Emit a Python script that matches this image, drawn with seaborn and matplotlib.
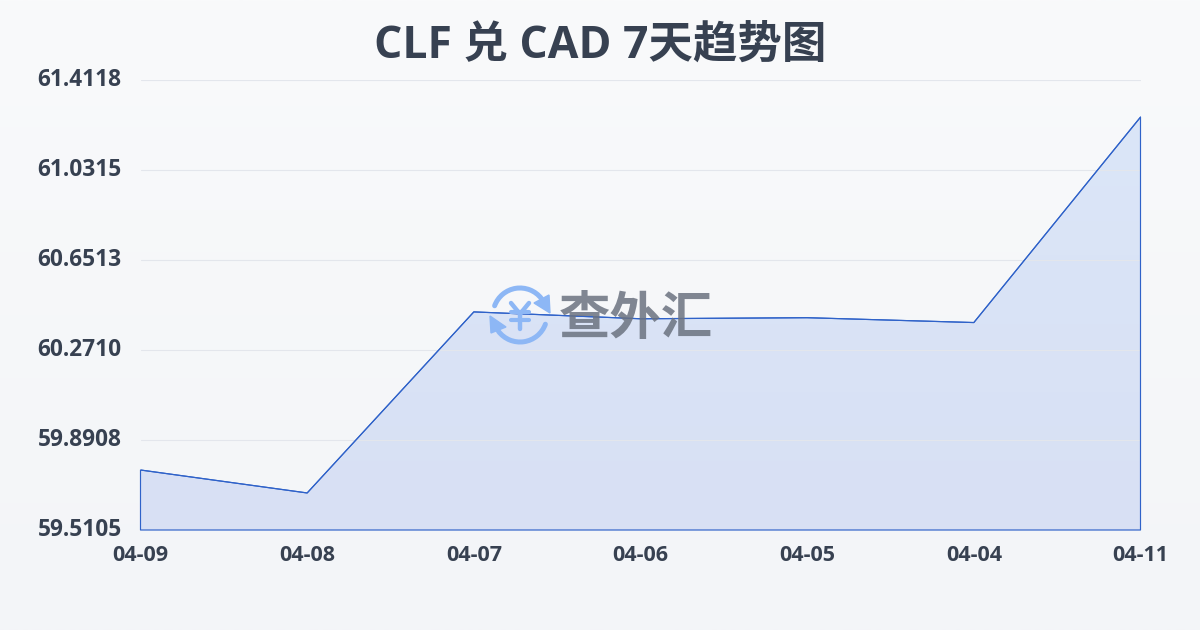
import matplotlib
matplotlib.use('Agg')
import matplotlib.pyplot as plt
from matplotlib.colors import LinearSegmentedColormap
from matplotlib.patches import Arc, Polygon
import numpy as np
import pandas as pd
import seaborn as sns

# datos
fechas = ['04-09', '04-08', '04-07', '04-06', '04-05', '04-04', '04-11']
valores = [59.764, 59.667, 60.432, 60.403, 60.4075, 60.387, 61.255]
ticks_y = [59.5105, 59.8908, 60.2710, 60.6513, 61.0315, 61.4118]
titulo = 'CLF 兑 CAD 7天趋势图'
marca = '查外汇'

sns.set_style('white')
plt.rcParams['font.family'] = ['Open Sans', 'Noto Sans CJK SC', 'DejaVu Sans']

TEXTO = '#374151'
AZUL = '#2f62c9'
ICONO = '#8db7f5'

df = pd.DataFrame({'fecha': fechas, 'valor': valores})
fig = plt.figure(figsize=(12, 6.3), dpi=100)

# fondo con degradado
fondo = fig.add_axes([0, 0, 1, 1], zorder=0)
cmap_fondo = LinearSegmentedColormap.from_list('fondo', ['#f9fafb', '#f3f5f8'])
fondo.imshow(np.linspace(0, 1, 256).reshape(-1, 1), aspect='auto', cmap=cmap_fondo)
fondo.axis('off')

ax = fig.add_axes([140.5 / 1200, 100 / 630, 1000 / 1200, 450 / 630], zorder=1)
ax.patch.set_alpha(0)

x = np.arange(len(fechas))
y_min, y_max = ticks_y[0], ticks_y[-1]

# area con degradado recortada al poligono
area = ax.fill_between(x, df['valor'], y_min, facecolor='none', edgecolor=AZUL, linewidth=0.85, zorder=3, clip_on=False)
cmap_area = LinearSegmentedColormap.from_list('area', ['#d8e0f4', '#dbe6f8'])
img = ax.imshow(np.linspace(0, 1, 256).reshape(-1, 1), aspect='auto', cmap=cmap_area, origin='lower',
                extent=[x[0], x[-1], y_min, df['valor'].max()], zorder=1)
img.set_clip_path(area.get_paths()[0], transform=ax.transData)
sns.lineplot(data=df, x='fecha', y='valor', sort=False, color=AZUL, linewidth=0.85, ax=ax, zorder=4)

ax.set_xlim(x[0], x[-1])
ax.set_ylim(y_min, y_max)
ax.set_xticks(x)
ax.set_xticklabels(fechas, fontsize=15.5, fontweight='bold', color=TEXTO)
ax.set_yticks(ticks_y)
ax.set_yticklabels([f'{v:.4f}' for v in ticks_y], fontsize=16.3, fontweight='bold', color=TEXTO, va='center')
ax.set_xlabel('')
ax.set_ylabel('')
ax.grid(axis='y', color='#e3e6ec', linewidth=0.8, zorder=2)
ax.set_axisbelow(False)
for linea in ax.get_ygridlines():
    linea.set_zorder(2)
ax.tick_params(axis='x', length=8, width=0.8, color='#e5e7eb', pad=2.5)
ax.tick_params(axis='y', length=0, pad=13.5)
for lado in ax.spines.values():
    lado.set_visible(False)

# titulo y marca de agua en pixeles
capa = fig.add_axes([0, 0, 1, 1], zorder=2)
capa.set_xlim(0, 1200)
capa.set_ylim(630, 0)
capa.axis('off')
capa.text(600, 46, titulo, fontsize=32, fontweight='bold', color=TEXTO, ha='center', va='center')
capa.text(636, 321, marca, fontsize=37, fontweight='bold', color='#6b7280', alpha=0.85, ha='center', va='center')
capa.add_patch(Arc((520, 315), 54, 54, theta1=200, theta2=322, color=ICONO, linewidth=3.6, capstyle='round'))
capa.add_patch(Arc((520, 315), 54, 54, theta1=20, theta2=143, color=ICONO, linewidth=3.6, capstyle='round'))
capa.add_patch(Polygon([[549, 295], [550, 313], [534, 303]], color=ICONO))
capa.add_patch(Polygon([[490, 316], [506, 327], [491, 333]], color=ICONO))
capa.plot([511, 520, 529], [303, 314, 303], color=ICONO, linewidth=3.2, solid_capstyle='round')
capa.plot([520, 520], [314, 329], color=ICONO, linewidth=3.2, solid_capstyle='round')
capa.plot([511, 529], [312, 312], color=ICONO, linewidth=3.0, solid_capstyle='round')
capa.plot([511, 529], [320, 320], color=ICONO, linewidth=3.0, solid_capstyle='round')

fig.savefig('out.png', dpi=100)
plt.close()
